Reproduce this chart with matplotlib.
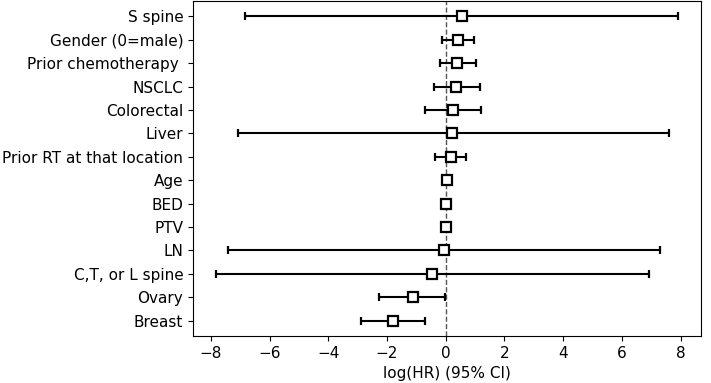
import matplotlib
matplotlib.use("Agg")
import matplotlib.pyplot as plt
import numpy as np

labels = ["S spine", "Gender (0=male)", "Prior chemotherapy ", "NSCLC", "Colorectal",
          "Liver", "Prior RT at that location", "Age", "BED", "PTV", "LN",
          "C,T, or L spine", "Ovary", "Breast"]
coef = [0.54, 0.42, 0.40, 0.36, 0.25, 0.23, 0.18, 0.03, 0.00, 0.00, -0.06, -0.45, -1.13, -1.78]
lower = [-6.82, -0.14, -0.20, -0.41, -0.71, -7.09, -0.35, 0.01, -0.01, -0.01, -7.40, -7.82, -2.27, -2.90]
upper = [7.91, 0.97, 1.02, 1.18, 1.22, 7.60, 0.70, 0.05, 0.01, 0.01, 7.31, 6.91, -0.01, -0.69]

coef = np.array(coef)
err = np.vstack([coef - np.array(lower), np.array(upper) - coef])
y = np.arange(len(labels))[::-1]

fig = plt.figure(figsize=(7.11, 3.83), dpi=100)
ax = fig.add_axes([193 / 711, 47 / 383, 508 / 711, 335 / 383])
ax.axvline(0, color="#555555", linestyle="--", linewidth=1, zorder=1)
ax.errorbar(coef, y, xerr=err, fmt="s", color="black", ecolor="black",
            markerfacecolor="white", markeredgecolor="black", markersize=7.5,
            markeredgewidth=1.6, elinewidth=1.5, capsize=3, capthick=1.5, zorder=2)
ax.set_yticks(y)
ax.set_yticklabels(labels, fontsize=11)
ax.set_xticks(np.arange(-8, 9, 2))
ax.tick_params(axis="x", labelsize=11)
ax.set_xlabel("log(HR) (95% CI)", fontsize=11)
fig.savefig("out.png", dpi=100)
